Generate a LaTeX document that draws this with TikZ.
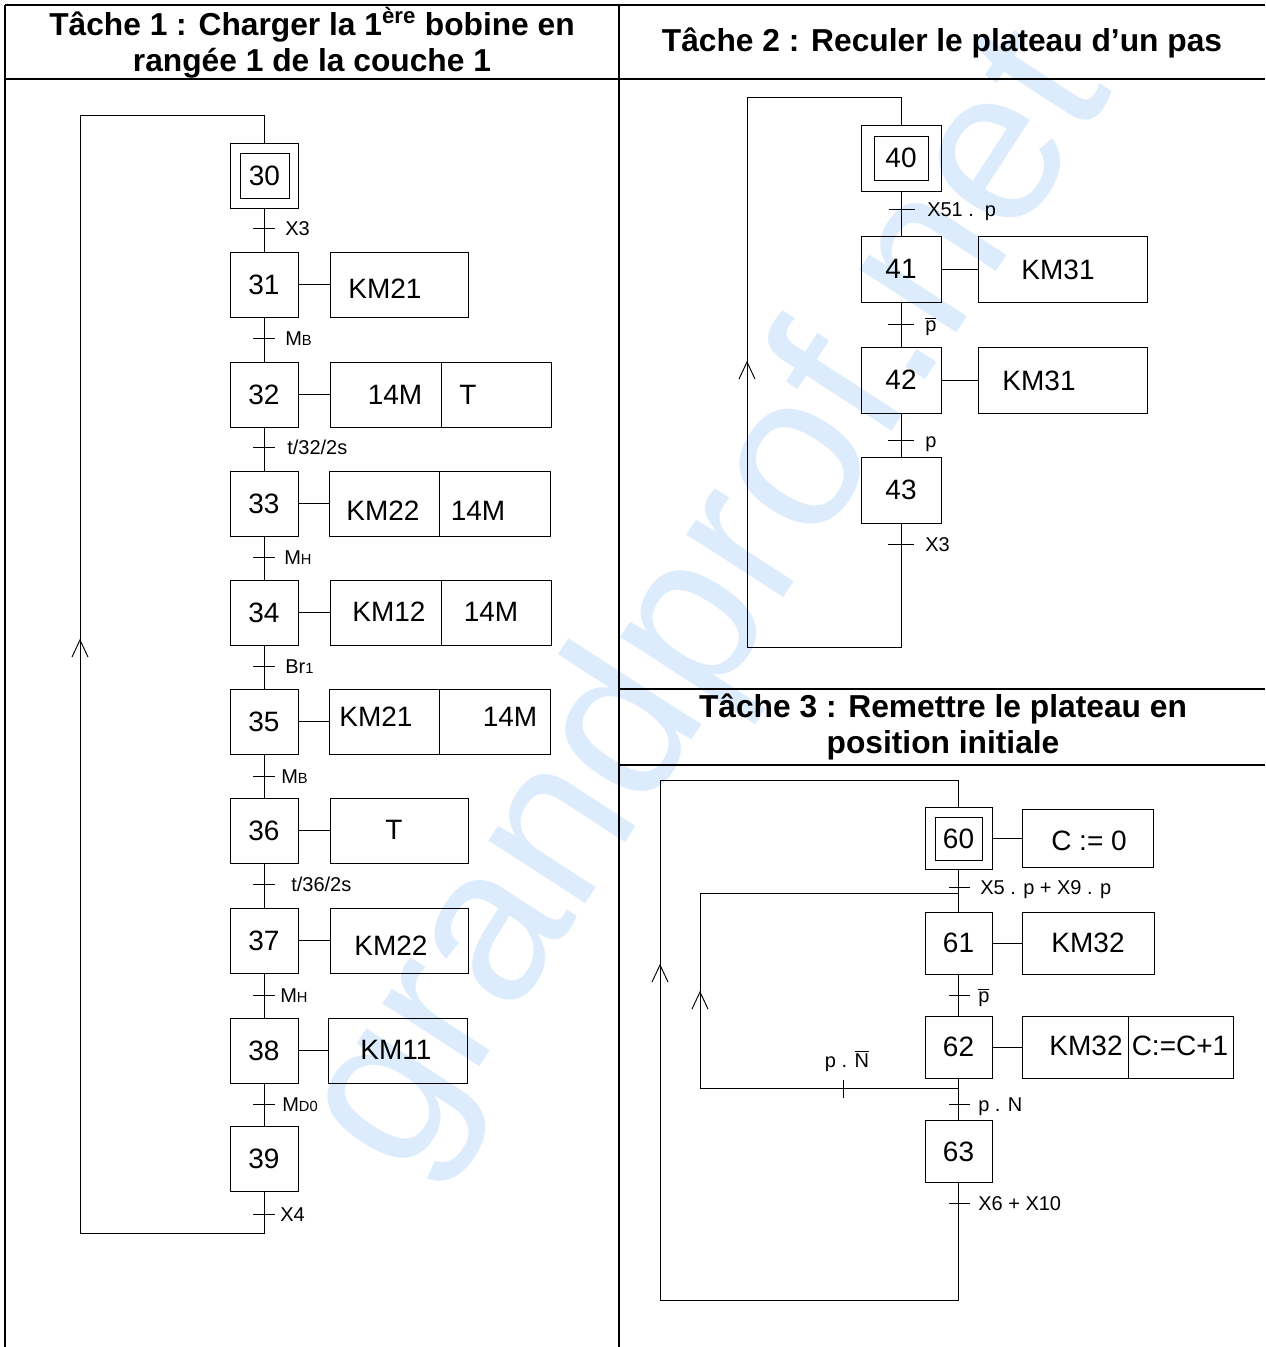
\documentclass[tikz,border=0pt]{standalone}
\usepackage{fontspec}
\setmainfont{Liberation Sans}
\definecolor{wm}{RGB}{221,236,252}
\begin{document}
\begin{tikzpicture}[x=0.75pt,y=-0.75pt,
  ln/.style={line width=0.7pt},
  tb/.style={line width=1.6pt},
  stepA/.style={draw, ln, minimum width=51pt, minimum height=48.75pt, inner sep=0pt, font=\fontsize{21}{24}\selectfont},
  stepB/.style={draw, ln, minimum width=60pt, minimum height=49.5pt, inner sep=0pt, font=\fontsize{21}{24}\selectfont},
  stepC/.style={draw, ln, minimum width=50.25pt, minimum height=46.5pt, inner sep=0pt, font=\fontsize{21}{24}\selectfont},
  actbox/.style={draw, ln, inner sep=0pt},
  txt/.style={inner sep=0pt, font=\fontsize{21}{24}\selectfont},
  trl/.style={inner sep=0pt, anchor=base west, font=\fontsize{15}{18}\selectfont},
  ttl/.style={inner sep=0pt, align=center, font=\bfseries\fontsize{23.8}{27}\selectfont},
  chev/.style={ln}
]
\useasboundingbox (0,0) rectangle (1265,1347);
% watermark
\node[text=wm, rotate=57, font=\fontsize{164}{164}\selectfont, inner sep=0pt] (wmk) at (712,605) {grandprof.net};

% table frame
\draw[tb] (5,5) -- (1265,5);
\draw[tb] (5,5) -- (5,1347);
\draw[tb] (619,5) -- (619,1347);
\draw[tb] (5,79) -- (1265,79);
\draw[tb] (619,689) -- (1265,689);
\draw[tb] (619,765) -- (1265,765);

% titles
\node[ttl] (title1) at (312,43) {Tâche 1 : Charger la 1\textsuperscript{ère} bobine en\\rangée 1 de la couche 1};
\node[ttl] (title2) at (942,43) {Tâche 2 : Reculer le plateau d’un pas};
\node[ttl] (title3) at (943,727) {Tâche 3 : Remettre le plateau en\\position initiale};

% ================= Tache 1 =================
\node[stepA] (s30) at (264,175.5) {};
\node[draw, ln, minimum width=36.75pt, minimum height=33.75pt, inner sep=0pt, font=\fontsize{21}{24}\selectfont] (s30i) at (264.5,175.5) {30};
\node[stepA] (s31) at (264,284.5) {31};
\node[stepA] (s32) at (264,394.5) {32};
\node[stepA] (s33) at (264,503.5) {33};
\node[stepA] (s34) at (264,612.5) {34};
\node[stepA] (s35) at (264,721.5) {35};
\node[stepA] (s36) at (264,830.5) {36};
\node[stepA] (s37) at (264,940.5) {37};
\node[stepA] (s38) at (264,1050.5) {38};
\node[stepA] (s39) at (264,1158.5) {39};

\draw[ln] (s30) -- (s31) -- (s32) -- (s33) -- (s34) -- (s35) -- (s36) -- (s37) -- (s38) -- (s39);
\coordinate (l1a) at (264,1233);
\coordinate (l1b) at (80,1233);
\coordinate (l1c) at (80,115);
\coordinate (l1d) at (264,115);
\draw[ln] (s39.south) -- (l1a) -- (l1b) -- (l1c) -- (l1d) -- (s30.north);
\draw[chev] (72,657) -- (80,640) -- (88,657);

% actions tache 1
\node[actbox, minimum width=103.5pt, minimum height=48.75pt] (a31) at (399,284.5) {};
\node[actbox, minimum width=83.25pt, minimum height=48.75pt] (a32a) at (385.5,394.5) {};
\node[actbox, minimum width=82.5pt, minimum height=48.75pt] (a32b) at (496,394.5) {};
\node[actbox, minimum width=82.5pt, minimum height=48.75pt] (a33a) at (384,503.5) {};
\node[actbox, minimum width=83.25pt, minimum height=48.75pt] (a33b) at (494.5,503.5) {};
\node[actbox, minimum width=83.25pt, minimum height=48.75pt] (a34a) at (385.5,612.5) {};
\node[actbox, minimum width=82.5pt, minimum height=48.75pt] (a34b) at (496,612.5) {};
\node[actbox, minimum width=82.5pt, minimum height=48.75pt] (a35a) at (384,721.5) {};
\node[actbox, minimum width=83.25pt, minimum height=48.75pt] (a35b) at (494.5,721.5) {};
\node[actbox, minimum width=103.5pt, minimum height=48.75pt] (a36) at (399,830.5) {};
\node[actbox, minimum width=103.5pt, minimum height=48.75pt] (a37) at (399,940.5) {};
\node[actbox, minimum width=104.25pt, minimum height=48.75pt] (a38) at (397.5,1050.5) {};

\draw[ln] (s31.east) -- (a31.west);
\draw[ln] (s32.east) -- (a32a.west);
\draw[ln] (s33.east) -- (a33a.west);
\draw[ln] (s34.east) -- (a34a.west);
\draw[ln] (s35.east) -- (a35a.west);
\draw[ln] (s36.east) -- (a36.west);
\draw[ln] (s37.east) -- (a37.west);
\draw[ln] (s38.east) -- (a38.west);

\node[txt] (t31) at (385,289) {KM21};
\node[txt] (t32a) at (395,395) {14M};
\node[txt] (t32b) at (468,395) {T};
\node[txt] (t33a) at (383,511) {KM22};
\node[txt] (t33b) at (478,511) {14M};
\node[txt] (t34a) at (389,612) {KM12};
\node[txt] (t34b) at (491,612) {14M};
\node[txt] (t35a) at (376,717) {KM21};
\node[txt] (t35b) at (510,717) {14M};
\node[txt] (t36) at (394,830) {T};
\node[txt] (t37) at (391,946) {KM22};
\node[txt] (t38) at (396,1050) {KM11};

% transitions tache 1
\draw[ln] (253,228) -- (275,228);   \node[trl] (r1) at (285,235) {X3};
\draw[ln] (253,338) -- (275,338);   \node[trl] (r2) at (285,345) {M{\fontsize{11}{12}\selectfont B}};
\draw[ln] (253,447) -- (275,447);   \node[trl] (r3) at (287,454) {t/32/2s};
\draw[ln] (253,557) -- (275,557);   \node[trl] (r4) at (284,564) {M{\fontsize{11}{12}\selectfont H}};
\draw[ln] (253,666) -- (275,666);   \node[trl] (r5) at (285,673) {Br{\fontsize{11}{12}\selectfont 1}};
\draw[ln] (253,776) -- (275,776);   \node[trl] (r6) at (281,783) {M{\fontsize{11}{12}\selectfont B}};
\draw[ln] (253,884) -- (275,884);   \node[trl] (r7) at (291,891) {t/36/2s};
\draw[ln] (253,995) -- (275,995);   \node[trl] (r8) at (280,1002) {M{\fontsize{11}{12}\selectfont H}};
\draw[ln] (253,1104) -- (275,1104); \node[trl] (r9) at (282,1111) {M{\fontsize{11}{12}\selectfont D0}};
\draw[ln] (253,1214) -- (275,1214); \node[trl] (r10) at (280,1221) {X4};

% ================= Tache 2 =================
\node[stepB] (s40) at (901,158) {};
\node[draw, ln, minimum width=40.5pt, minimum height=33pt, inner sep=0pt, font=\fontsize{21}{24}\selectfont] (s40i) at (901,158) {40};
\node[stepB] (s41) at (901,269) {41};
\node[stepB] (s42) at (901,380) {42};
\node[stepB] (s43) at (901,490) {43};
\draw[ln] (s40) -- (s41) -- (s42) -- (s43);
\coordinate (l2a) at (901,647);
\coordinate (l2b) at (747,647);
\coordinate (l2c) at (747,97);
\coordinate (l2d) at (901,97);
\draw[ln] (s43.south) -- (l2a) -- (l2b) -- (l2c) -- (l2d) -- (s40.north);
\draw[chev] (739,379) -- (747,362) -- (755,379);

\node[actbox, minimum width=126.75pt, minimum height=49.5pt] (a41) at (1062.5,269) {};
\node[actbox, minimum width=126.75pt, minimum height=49.5pt] (a42) at (1062.5,380) {};
\draw[ln] (s41.east) -- (a41.west);
\draw[ln] (s42.east) -- (a42.west);
\node[txt] (t41) at (1058,270) {KM31};
\node[txt] (t42) at (1039,381) {KM31};

\draw[ln] (889,209) -- (915,209); \node[trl] (r11) at (927,216) {X51 .\hspace{0.55em}p};
\draw[ln] (888,324) -- (914,324); \node[trl] (r12) at (925,331) {$\overline{\mbox{p}}$};
\draw[ln] (888,440) -- (914,440); \node[trl] (r13) at (925,447) {p};
\draw[ln] (888,544) -- (914,544); \node[trl] (r14) at (925,551) {X3};

% ================= Tache 3 =================
\node[stepC] (s60) at (958.5,838) {};
\node[draw, ln, minimum width=35.25pt, minimum height=32.25pt, inner sep=0pt, font=\fontsize{21}{24}\selectfont] (s60i) at (958.5,838.5) {60};
\node[stepC] (s61) at (958.5,943) {61};
\node[stepC] (s62) at (958.5,1047) {62};
\node[stepC] (s63) at (958.5,1151.5) {63};
\draw[ln] (s60) -- (s61) -- (s62) -- (s63);

\coordinate (l3a) at (958.5,1300);
\coordinate (l3b) at (660,1300);
\coordinate (l3c) at (660,780);
\coordinate (l3d) at (958.5,780);
\draw[ln] (s63.south) -- (l3a) -- (l3b) -- (l3c) -- (l3d) -- (s60.north);
\draw[chev] (652,982) -- (660,965) -- (668,982);

\coordinate (b1) at (958.5,893);
\coordinate (b2) at (700,893);
\coordinate (b3) at (700,1088);
\coordinate (b4) at (958.5,1088);
\draw[ln] (b4) -- (b3) -- (b2) -- (b1);
\draw[chev] (692,1009) -- (700,992) -- (708,1009);
\draw[ln] (843,1080) -- (843,1098);
\node[trl, anchor=base] (r20) at (847,1067) {p . $\overline{\mbox{N}}$};

\node[actbox, minimum width=98.25pt, minimum height=43.5pt] (a60) at (1087.5,838) {};
\node[actbox, minimum width=99pt, minimum height=46.5pt] (a61) at (1088,943) {};
\node[actbox, minimum width=79.5pt, minimum height=46.5pt] (a62a) at (1075,1047) {};
\node[actbox, minimum width=78.75pt, minimum height=46.5pt] (a62b) at (1180.5,1047) {};
\draw[ln] (s60.east) -- (a60.west);
\draw[ln] (s61.east) -- (a61.west);
\draw[ln] (s62.east) -- (a62a.west);
\node[txt] (t60) at (1089,841) {C := 0};
\node[txt] (t61) at (1088,943) {KM32};
\node[txt] (t62a) at (1086,1046) {KM32};
\node[txt] (t62b) at (1180,1046) {C:=C+1};

\draw[ln] (949,887) -- (970,887);   \node[trl] (r15) at (980,894) {X5 . p + X9 . p};
\draw[ln] (949,995) -- (970,995);   \node[trl] (r16) at (978,1002) {$\overline{\mbox{p}}$};
\draw[ln] (949,1104) -- (970,1104); \node[trl] (r17) at (978,1111) {p . N};
\draw[ln] (949,1203) -- (970,1203); \node[trl] (r18) at (978,1210) {X6 + X10};
\end{tikzpicture}
\end{document}
